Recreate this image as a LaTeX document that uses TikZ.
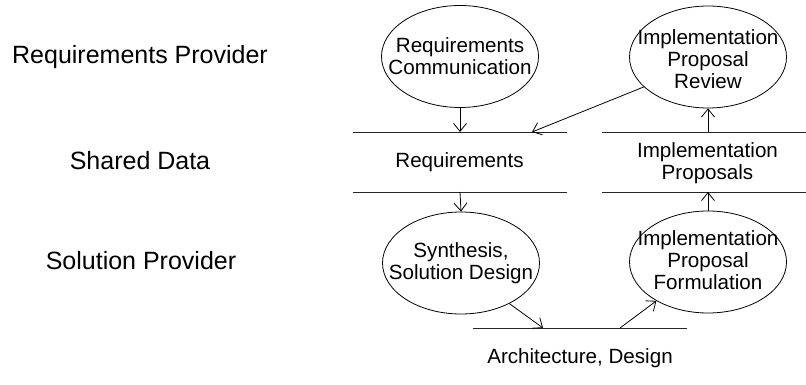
\documentclass[tikz,border=0pt]{standalone}
\usepackage{fontspec}
\setmainfont{Liberation Sans}
\usetikzlibrary{shapes.geometric,arrows.meta}
\begin{document}
\begin{tikzpicture}[x=1pt,y=-1pt,
  proc/.style={draw,ellipse,line width=0.8pt,inner sep=0pt,minimum width=157pt,minimum height=102pt},
  txt/.style={align=center,font=\fontsize{20.6}{22}\selectfont,inner sep=0pt},
  lane/.style={font=\fontsize{25}{30}\selectfont,inner sep=0pt},
  storeline/.style={line width=0.8pt,draw=black!85},
  flow/.style={line width=0.8pt,-{Straight Barb[length=8pt,width=13pt]}}
]
\useasboundingbox (0,0) rectangle (806,385);
% lane labels
\node[lane] (lrp) at (140,57) {Requirements Provider};
\node[lane] (lsd) at (140,161) {Shared Data};
\node[lane] (lsp) at (141,261) {Solution Provider};
% processes
\node[proc] (e1) at (460,56.5) {};
\node[txt] (t1) at (e1) {Requirements\\Communication};
\node[proc] (e2) at (708,57) {};
\node[txt] (t2) at (708,59.5) {Implementation\\Proposal\\Review};
\node[proc] (e3) at (461,263) {};
\node[txt] (t3) at (e3) {Synthesis,\\Solution Design};
\node[proc] (e4) at (708,262) {};
\node[txt] (t4) at (708,260) {Implementation\\Proposal\\Formulation};
% data stores
\node[txt] (req) at (459.5,162) {Requirements};
\coordinate (reqTL) at (353,132);
\coordinate (reqTR) at (567,132);
\coordinate (reqBL) at (353,192);
\coordinate (reqBR) at (567,192);
\draw[storeline] (reqTL) -- (reqTR);
\draw[storeline] (reqBL) -- (reqBR);
\node[txt] (imp) at (707.5,163) {Implementation\\Proposals};
\coordinate (impTL) at (602,132);
\coordinate (impTR) at (806,132);
\coordinate (impBL) at (602,192);
\coordinate (impBR) at (806,192);
\draw[storeline] (impTL) -- (impTR);
\draw[storeline] (impBL) -- (impBR);
\node[txt] (arch) at (580,358) {Architecture, Design};
\coordinate (archL) at (473,328);
\coordinate (archR) at (687,328);
\draw[storeline] (archL) -- (archR);
% connector end points on stores
\coordinate (reqIn) at (460,132);
\coordinate (reqIn2) at (532,132);
\coordinate (reqOut) at (460,192);
\coordinate (impOut) at (708,132);
\coordinate (impIn) at (708,192);
\coordinate (archIn) at (543,328);
\coordinate (archOut) at (620,328);
% flows
\draw[flow] (e1.south) -- (reqIn);
\draw[flow] (e2.-155.6) -- (reqIn2);
\draw[flow] (reqOut) -- (e3.north);
\draw[flow] (impOut) -- (e2.south);
\draw[flow] (e4.north) -- (impIn);
\draw[flow] (e3.-40) -- (archIn);
\draw[flow] (archOut) -- (e4.-143);
\end{tikzpicture}
\end{document}
